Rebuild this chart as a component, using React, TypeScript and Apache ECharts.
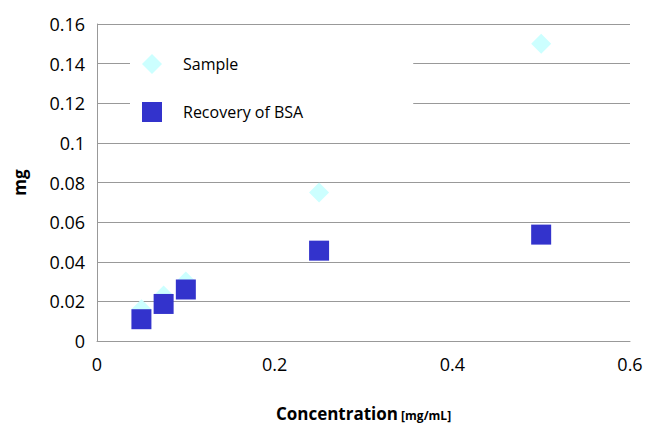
import React, { useEffect, useRef } from 'react';
import * as echarts from 'echarts';

const concentration = [0.05, 0.075, 0.1, 0.25, 0.5];
const sampleMg = [0.016, 0.023, 0.03, 0.075, 0.15];
const bsaMg = [0.011, 0.0187, 0.026, 0.0456, 0.0537];

const font = '"Open Sans", sans-serif';

const App: React.FC = () => {
  const chartRef = useRef<HTMLDivElement | null>(null);

  useEffect(() => {
    const chart = echarts.init(chartRef.current!, undefined, { renderer: 'svg' });

    const option: echarts.EChartsOption = {
      animation: false,
      textStyle: { fontFamily: font },
      grid: { left: 89, right: 21, top: 16, bottom: 87, outerBoundsMode: 'none' } as any,
      legend: {
        orient: 'vertical',
        left: 122,
        top: 22,
        backgroundColor: '#fff',
        padding: [24, 110, 20, 12],
        itemGap: 28,
        itemWidth: 20,
        itemHeight: 20,
        textStyle: { fontSize: 16, color: '#000', fontFamily: font, padding: [0, 0, 0, 16] },
        data: [
          { name: 'Sample', icon: 'diamond' },
          { name: 'Recovery of BSA', icon: 'rect' },
        ],
      },
      xAxis: {
        type: 'value',
        min: 0,
        max: 0.6,
        interval: 0.2,
        axisLine: { lineStyle: { color: '#999' } },
        axisTick: { show: false },
        splitLine: { show: false },
        axisLabel: { color: '#000', fontSize: 18, margin: 14 },
        name: '{b|Concentration} {s|[mg/mL]}',
        nameLocation: 'middle',
        nameGap: 64,
        nameTextStyle: {
          rich: {
            b: { fontSize: 17, fontWeight: 'bold', color: '#000', fontFamily: font },
            s: { fontSize: 12, fontWeight: 'bold', color: '#000', fontFamily: font, padding: [4, 0, 0, 0] },
          },
        },
      },
      yAxis: {
        type: 'value',
        min: 0,
        max: 0.16,
        interval: 0.02,
        axisLine: { show: true, lineStyle: { color: '#999' } },
        axisTick: { show: false },
        splitLine: { lineStyle: { color: '#999' } },
        axisLabel: { color: '#000', fontSize: 18, margin: 12 },
        name: 'mg',
        nameLocation: 'middle',
        nameGap: 69,
        nameTextStyle: { fontSize: 17, fontWeight: 'bold', color: '#000' },
      },
      series: [
        {
          name: 'Sample',
          type: 'scatter',
          symbol: 'diamond',
          symbolSize: 20,
          itemStyle: { color: '#ccffff', opacity: 1 },
          data: concentration.map((x, i) => [x, sampleMg[i]]),
        },
        {
          name: 'Recovery of BSA',
          type: 'scatter',
          symbol: 'rect',
          symbolSize: 20,
          itemStyle: { color: '#3333cc', opacity: 1 },
          data: concentration.map((x, i) => [x, bsaMg[i]]),
        },
      ],
    };

    chart.setOption(option);
    return () => chart.dispose();
  }, []);

  return <div ref={chartRef} style={{ width: 643, height: 420 }} />;
};

export default App;
